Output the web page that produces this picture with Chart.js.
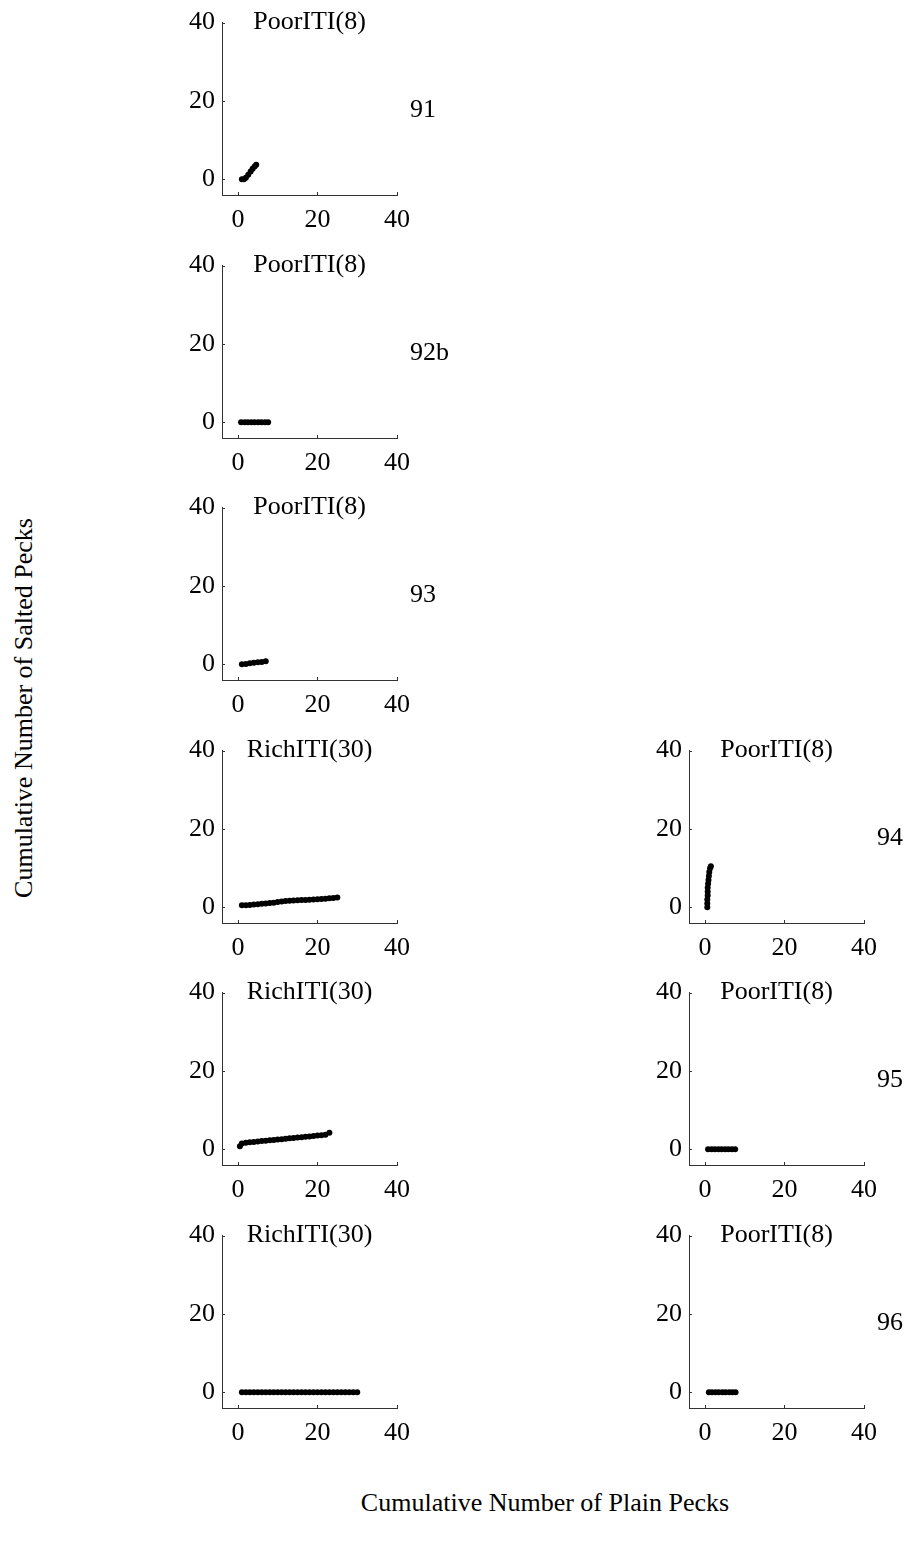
<!DOCTYPE html>
<html>
<head>
<meta charset="utf-8">
<script src="https://cdn.jsdelivr.net/npm/chart.js@4.4.1/dist/chart.umd.min.js"></script>
<style>
  body { margin: 0; background: #fff; width: 908px; height: 1546px; position: relative; overflow: hidden;
         font-family: "Liberation Serif", "Times New Roman", serif; color: #000; }
  .pane { position: absolute; }
  .axlab { position: absolute; white-space: nowrap; font-size: 26px; line-height: 1; }
  #ylab { left: 24px; top: 708px; transform: translate(-50%, -50%) rotate(-90deg); }
  #xlab { left: 545px; top: 1503px; transform: translate(-50%, -50%); }
</style>
</head>
<body>
<div class="axlab" id="ylab">Cumulative Number of Salted Pecks</div>
<div class="axlab" id="xlab">Cumulative Number of Plain Pecks</div>

<script>
'use strict';

// tick labels, same on every little panel
let tickVals = [0, 20, 40];

// bird 91 - poor ITI
let plain91 = [1, 1.5, 2, 2.6, 3.2, 3.7, 4.2, 4.6];
let salted91 = [0, 0, 0.4, 1.2, 2, 2.7, 3.3, 3.7];

// bird 92b - poor ITI
let plain92b = [0.8, 1.7, 2.5, 3.4, 4.2, 5.1, 5.9, 6.8, 7.6];
let salted92b = [0, 0, 0, 0, 0, 0, 0, 0, 0];

// bird 93 - poor ITI
let plain93 = [1, 2, 3, 4, 5, 6, 7];
let salted93 = [0, 0.1, 0.3, 0.4, 0.5, 0.6, 0.8];

// bird 94
let plain94rich = [1, 2, 3, 4, 5, 6, 7, 8, 9, 10, 11, 12, 13, 14, 15, 16, 17, 18, 19, 20, 21, 22, 23, 24, 25];
let salted94rich = [0.5, 0.55, 0.6, 0.7, 0.8, 0.9, 1.0, 1.1, 1.2, 1.35, 1.5, 1.6, 1.7, 1.75, 1.8, 1.85, 1.9, 1.95, 2.0, 2.05, 2.1, 2.2, 2.3, 2.4, 2.5];
let plain94poor = [0.6, 0.6, 0.6, 0.7, 0.7, 0.7, 0.8, 0.9, 1.0, 1.1, 1.3, 1.5];
let salted94poor = [0, 1, 2, 3, 4, 5, 6, 7, 8, 9, 10, 10.5];

// bird 95
let plain95rich = [0.5, 1, 2, 3, 4, 5, 6, 7, 8, 9, 10, 11, 12, 13, 14, 15, 16, 17, 18, 19, 20, 21, 22, 23];
let salted95rich = [0.8, 1.5, 1.7, 1.8, 1.9, 2.0, 2.1, 2.2, 2.3, 2.4, 2.5, 2.6, 2.7, 2.8, 2.9, 3.0, 3.1, 3.2, 3.3, 3.4, 3.5, 3.6, 3.7, 4.2];
let plain95poor = [0.8, 1.7, 2.5, 3.4, 4.2, 5.1, 5.9, 6.8, 7.6];
let salted95poor = [0, 0, 0, 0, 0, 0, 0, 0, 0];

// bird 96
let plain96rich = [1, 2, 3, 4, 5, 6, 7, 8, 9, 10, 11, 12, 13, 14, 15, 16, 17, 18, 19, 20, 21, 22, 23, 24, 25, 26, 27, 28, 29, 30];
let salted96rich = [0, 0, 0, 0, 0, 0, 0, 0, 0, 0, 0, 0, 0, 0, 0, 0, 0, 0, 0, 0, 0, 0, 0, 0, 0, 0, 0, 0, 0, 0];
let plain96poor = [1, 1.8, 2.7, 3.5, 4.4, 5.2, 6.1, 6.9, 7.7];
let salted96poor = [0, 0, 0, 0, 0, 0, 0, 0, 0];

// panel list: column, row, title, bird label, data
let panels = [
  { col: 0, row: 0, title: 'PoorITI(8)', bird: '91', xs: plain91, ys: salted91 },
  { col: 0, row: 1, title: 'PoorITI(8)', bird: '92b', xs: plain92b, ys: salted92b },
  { col: 0, row: 2, title: 'PoorITI(8)', bird: '93', xs: plain93, ys: salted93 },
  { col: 0, row: 3, title: 'RichITI(30)', bird: '', xs: plain94rich, ys: salted94rich },
  { col: 1, row: 3, title: 'PoorITI(8)', bird: '94', xs: plain94poor, ys: salted94poor },
  { col: 0, row: 4, title: 'RichITI(30)', bird: '', xs: plain95rich, ys: salted95rich },
  { col: 1, row: 4, title: 'PoorITI(8)', bird: '95', xs: plain95poor, ys: salted95poor },
  { col: 0, row: 5, title: 'RichITI(30)', bird: '', xs: plain96rich, ys: salted96rich },
  { col: 1, row: 5, title: 'PoorITI(8)', bird: '96', xs: plain96poor, ys: salted96poor }
];

// where the plot areas sit on the page
let colLeft = [222, 689];
let rowTop = [22, 265, 507, 750, 992, 1235];
let plotW = 175;
let plotH = 173;
let yAxisW = 72;
let xAxisH = 45;
let padTop = 22;

let FONT = '"Liberation Serif", "Times New Roman", serif';

// draws the title, the bird number and small inward ticks
let panelText = {
  id: 'panelText',
  afterDraw(chart, args, opts) {
    let ctx = chart.ctx;
    let a = chart.chartArea;
    let xs = chart.scales.x;
    let ys = chart.scales.y;
    ctx.save();
    ctx.strokeStyle = '#333';
    ctx.lineWidth = 1;
    ctx.beginPath();
    tickVals.forEach(function(v) {
      let px = Math.round(xs.getPixelForValue(v)) + 0.5;
      ctx.moveTo(px, a.bottom);
      ctx.lineTo(px, a.bottom - 3);
      let py = Math.round(ys.getPixelForValue(v)) + 0.5;
      ctx.moveTo(a.left, py);
      ctx.lineTo(a.left + 3, py);
    });
    ctx.stroke();

    ctx.fillStyle = '#000';
    ctx.font = '26px ' + FONT;
    ctx.textBaseline = 'middle';
    ctx.textAlign = 'center';
    ctx.fillText(opts.title, (a.left + a.right) / 2, a.top);
    if (opts.bird) {
      ctx.textAlign = 'left';
      ctx.fillText(opts.bird, a.right + 13, a.top + 88);
    }
    ctx.restore();
  }
};

function makeChart(p) {
  let canvasW = p.col === 0 ? 300 : 291;
  let canvasH = padTop + plotH + xAxisH;

  let box = document.createElement('div');
  box.className = 'pane';
  box.style.left = (colLeft[p.col] - yAxisW) + 'px';
  box.style.top = (rowTop[p.row] - padTop) + 'px';
  box.style.width = canvasW + 'px';
  box.style.height = canvasH + 'px';
  let canvasElem = document.createElement('canvas');
  box.appendChild(canvasElem);
  document.body.appendChild(box);

  let pts = [];
  for (let i = 0; i < p.xs.length; i++) {
    pts.push({ x: p.xs[i], y: p.ys[i] });
  }

  let chartObj = {
    type: 'scatter',
    data: {
      datasets: [{
        data: pts,
        pointRadius: 3,
        pointBackgroundColor: '#000',
        pointBorderWidth: 0,
        showLine: false
      }]
    },
    options: {
      responsive: true,
      maintainAspectRatio: false,
      animation: false,
      events: [],
      layout: { padding: { top: padTop, right: canvasW - yAxisW - plotW, left: 0, bottom: 0 } },
      plugins: {
        legend: { display: false },
        tooltip: { enabled: false },
        panelText: { title: p.title, bird: p.bird }
      },
      scales: {
        x: {
          type: 'linear',
          min: -4,
          max: 40,
          grid: { display: false, drawTicks: false },
          border: { display: true, color: '#333', width: 1 },
          afterBuildTicks: function(s) { s.ticks = tickVals.map(function(v) { return { value: v }; }); },
          afterFit: function(s) { s.height = xAxisH; },
          ticks: { color: '#000', font: { family: FONT, size: 26 }, padding: 10, maxRotation: 0 }
        },
        y: {
          type: 'linear',
          min: -4,
          max: 40,
          grid: { display: false, drawTicks: false },
          border: { display: true, color: '#333', width: 1 },
          afterBuildTicks: function(s) { s.ticks = tickVals.map(function(v) { return { value: v }; }); },
          afterFit: function(s) { s.width = yAxisW; },
          ticks: { color: '#000', font: { family: FONT, size: 26 }, padding: 7 }
        }
      }
    },
    plugins: [panelText]
  };
  new Chart(canvasElem, chartObj);
}

panels.forEach(makeChart);
</script>
</body>
</html>
